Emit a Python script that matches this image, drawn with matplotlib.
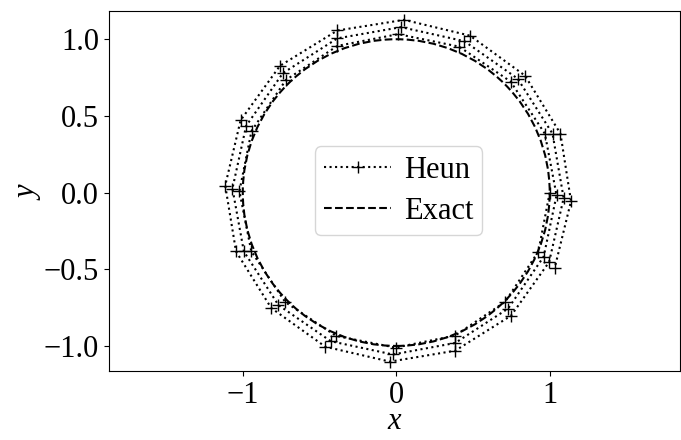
import matplotlib
matplotlib.use('Agg')
import matplotlib.pyplot as plt
from matplotlib.patches import Circle

plt.rcParams['font.family'] = 'serif'
plt.rcParams['font.serif'] = ['Liberation Serif', 'DejaVu Serif']
plt.rcParams['mathtext.fontset'] = 'custom'
plt.rcParams['mathtext.rm'] = 'Liberation Serif'
plt.rcParams['mathtext.it'] = 'Liberation Serif:italic'
plt.rcParams['font.size'] = 22

# Heun steps for x' = y, y' = -x starting at (1, 0)
heun_x = [1.0000, 0.9260, 0.7095, 0.3829, -0.0042, -0.3928, -0.7232, -0.9445,
          -1.0220, -0.9432, -0.7191, -0.3835, 0.0128, 0.4093, 0.7452, 0.9686,
          1.0445, 0.9606, 0.7288, 0.3839, -0.0218, -0.4264, -0.7677, -0.9931,
          -1.0674, -0.9782, -0.7385, -0.3841, 0.0312, 0.4439, 0.7908, 1.0183,
          1.0907, 0.9961, 0.7482, 0.3841, -0.0410, -0.4621, -0.8145, -1.0440,
          -1.1144, -1.0143, -0.7579, -0.3838, 0.0512, 0.4807, 0.8389, 1.0702,
          1.1386, 1.0327]
heun_y = [0.0000, -0.3847, -0.7124, -0.9327, -1.0110, -0.9346, -0.7143, -0.3833,
          0.0084, 0.4010, 0.7341, 0.9565, 1.0332, 0.9519, 0.7240, 0.3837,
          -0.0172, -0.4178, -0.7564, -0.9808, -1.0559, -0.9694, -0.7336, -0.3840,
          0.0264, 0.4351, 0.7792, 1.0056, 1.0790, 0.9872, 0.7433, 0.3841,
          -0.0360, -0.4529, -0.8026, -1.0311, -1.1025, -1.0052, -0.7530, -0.3840,
          0.0460, 0.4713, 0.8266, 1.0570, 1.1265, 1.0234, 0.7628, 0.3836,
          -0.0564, -0.4903]

# exact solution stays on the unit circle
exact_radius = 1.0

xticks = [-1, 0, 1]
yticks = [-1.0, -0.5, 0.0, 0.5, 1.0]

fig = plt.figure(figsize=(6.81, 4.40), dpi=100)
ax = fig.add_axes([0.160, 0.157, 0.839, 0.819])

ax.plot(heun_x, heun_y, 'k:+', markersize=8, label='Heun')
ax.add_patch(Circle((0, 0), exact_radius, fill=False, ec='k', ls='--', lw=1.5))
ax.plot([], [], 'k--', lw=1.5, label='Exact')

ax.set_xlim(-1.872, 1.851)
ax.set_ylim(-1.163, 1.187)
ax.set_xticks(xticks)
ax.set_yticks(yticks)
ax.set_xlabel(r'$x$', labelpad=-2)
ax.set_ylabel(r'$y$', labelpad=1)
ax.legend(loc='center', bbox_to_anchor=(0.507, 0.5), handlelength=2.2,
          handletextpad=0.4, borderpad=0.3, labelspacing=0.4)

fig.savefig('out.png', dpi=100)
